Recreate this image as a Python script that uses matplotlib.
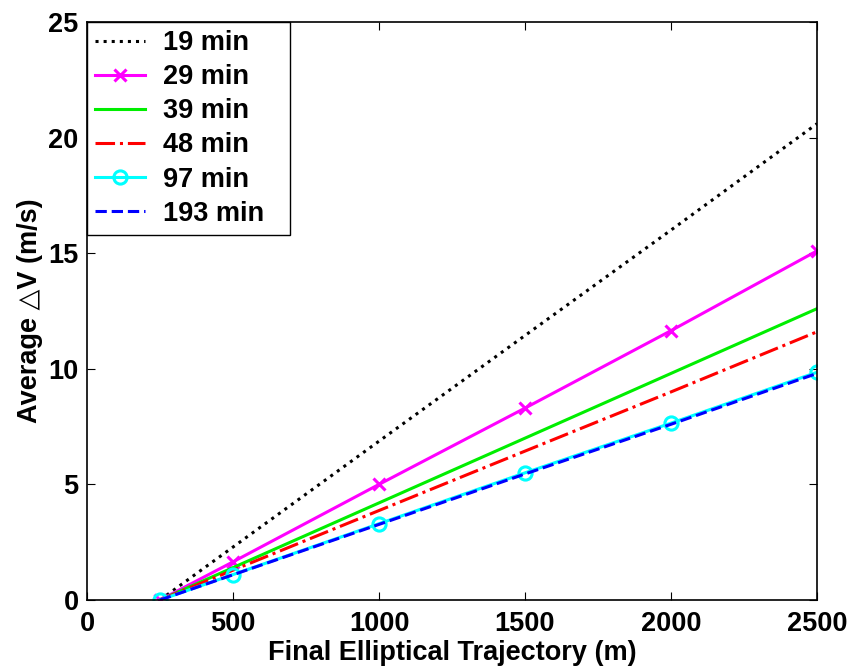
import matplotlib.pyplot as plt
import numpy as np

plt.rcParams['font.family'] = ['Liberation Sans', 'DejaVu Sans']
plt.rcParams['font.weight'] = 'bold'

traj = [250, 500, 1000, 1500, 2000, 2500]
dv_19 = [0, 2.29, 6.87, 11.44, 16.0, 20.6]
dv_29 = [0, 1.65, 5.0, 8.3, 11.65, 15.1]
dv_39 = [0, 1.4, 4.2, 7.0, 9.8, 12.6]
dv_48 = [0, 1.29, 3.87, 6.44, 9.0, 11.6]
dv_97 = [0, 1.1, 3.3, 5.5, 7.65, 9.85]
dv_193 = [0, 1.09, 3.27, 5.45, 7.6, 9.8]

fig = plt.figure(figsize=(8.5, 6.68), dpi=100)
ax = fig.add_axes([87/850, 1-600/668, 730/850, 578/668])

ax.plot(traj, dv_19, 'k:', lw=2.2, label='19 min')
ax.plot(traj, dv_29, '-', color='magenta', lw=2.2, marker='x', ms=9, mew=2.2, label='29 min')
ax.plot(traj, dv_39, '-', color='#00ee00', lw=2.2, label='39 min')
ax.plot(traj, dv_48, '-.', color='red', lw=2.2, label='48 min')
ax.plot(traj, dv_97, '-', color='cyan', lw=2.2, marker='o', ms=9.5, mfc='none', mew=2.2, label='97 min')
ax.plot(traj, dv_193, '--', color='blue', lw=2.2, label='193 min')

ax.set_xlim(0, 2500)
ax.set_ylim(0, 25)
ax.set_xticks([0, 500, 1000, 1500, 2000, 2500])
ax.set_yticks([0, 5, 10, 15, 20, 25])
ax.tick_params(direction='in', top=True, right=True, labelsize=19.5, length=6)
ax.tick_params(axis='x', pad=8)
ax.tick_params(axis='y', pad=6)
for lab in ax.get_xticklabels() + ax.get_yticklabels():
    lab.set_fontweight('bold')
for s in ax.spines.values():
    s.set_linewidth(1.2)

ax.set_xlabel('Final Elliptical Trajectory (m)', fontsize=19.5, fontweight='bold', labelpad=2)
ax.set_ylabel('Average \u25b3V (m/s)', fontsize=19.5, fontweight='bold', labelpad=4)

leg = ax.legend(loc='upper left', bbox_to_anchor=(0, 1, 203/730, 0), mode='expand',
                fancybox=False, framealpha=1,
                edgecolor='black', borderaxespad=0, handlelength=1.85,
                handletextpad=0.65, borderpad=0.3, labelspacing=0.3,
                prop={'weight': 'bold', 'size': 19.5})
leg.get_frame().set_linewidth(1.0)

fig.savefig('out.png', dpi=100)
